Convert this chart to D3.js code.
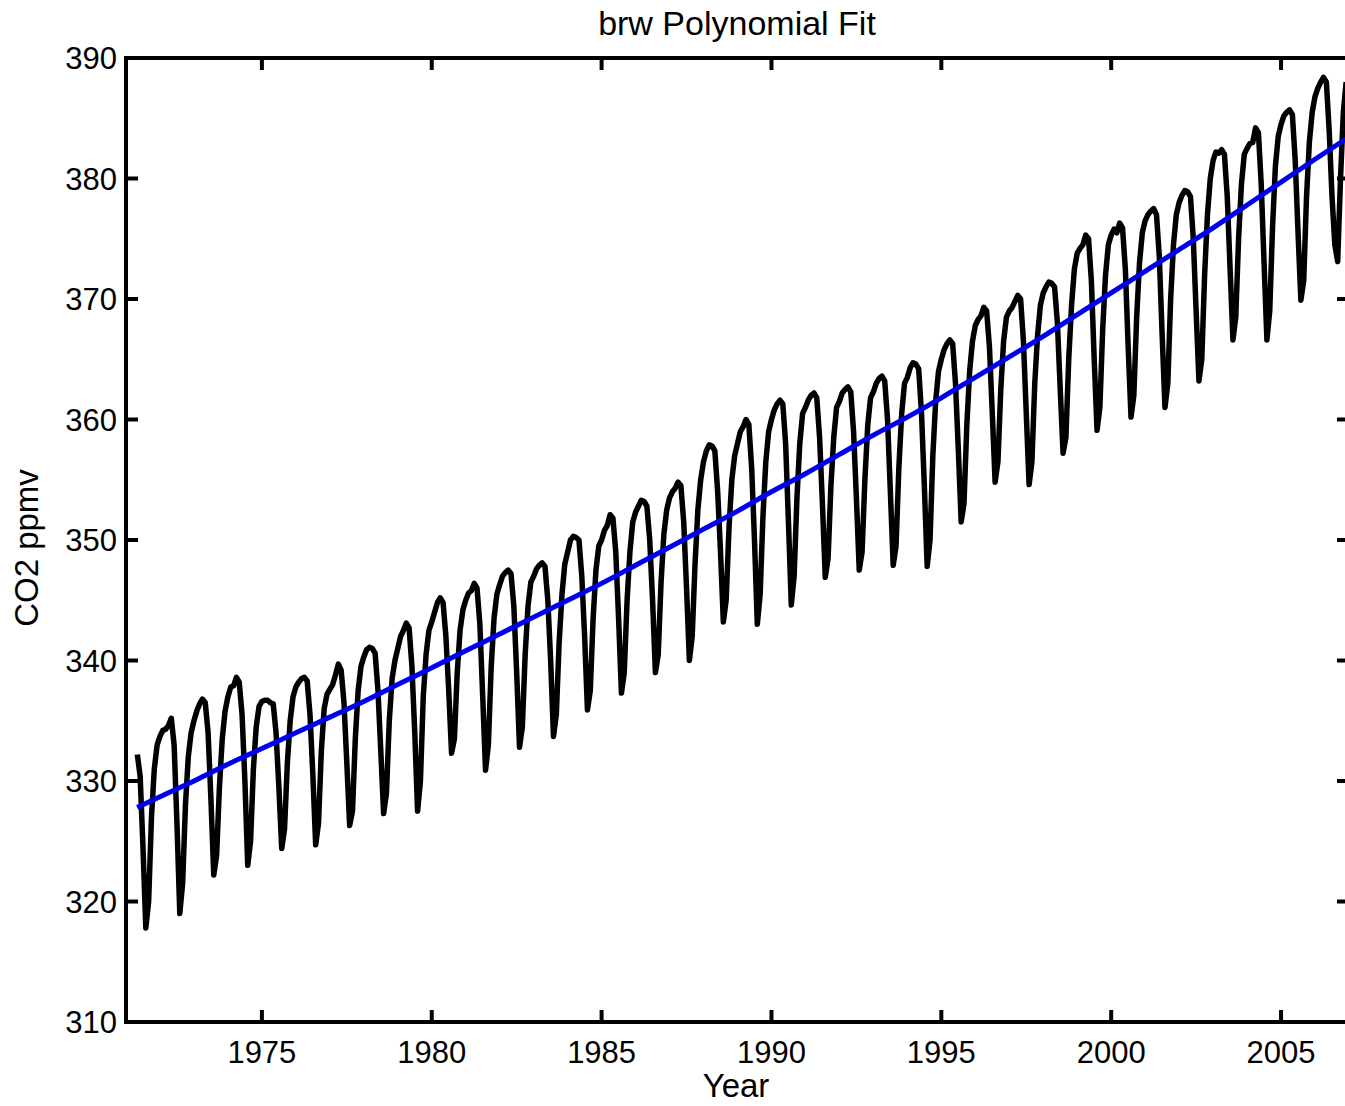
<!DOCTYPE html>
<html>
<head>
<meta charset="utf-8">
<script src="https://cdn.jsdelivr.net/npm/d3@7"></script>
<style>
  body { margin: 0; background: #fff; }
  text { font-family: "Liberation Sans", Arial, Helvetica, sans-serif; fill: #000; }
</style>
</head>
<body>
<div id="chart"></div>
<script>
// monthly CO2 at Barrow (ppmv), one row per year, Jan..Dec (null = no data)
const firstYear = 1971;
const co2Monthly = [
  [null, null, null, null, 332.2, 330.4, 324.5, 317.8, 320.0, 327.0, 331.0, 333.0], // 1971
  [333.7, 334.2, 334.3, 334.6, 335.2, 333.0, 326.5, 319.0, 321.5, 328.0, 332.0, 334.0],
  [335.0, 335.8, 336.4, 336.8, 336.5, 334.0, 328.5, 322.2, 323.8, 329.5, 333.5, 335.8],
  [337.0, 337.8, 337.9, 338.6, 338.2, 335.5, 330.0, 323.0, 325.0, 331.0, 334.5, 336.2],
  [336.6, 336.7, 336.7, 336.5, 336.4, 334.0, 329.5, 324.4, 326.0, 331.5, 335.0, 337.0], // 1975
  [337.8, 338.2, 338.5, 338.6, 338.3, 335.5, 330.5, 324.7, 326.5, 332.5, 336.0, 337.2],
  [337.6, 338.0, 338.8, 339.7, 339.2, 336.5, 331.5, 326.3, 327.5, 333.5, 337.5, 339.5],
  [340.3, 340.9, 341.1, 341.0, 340.6, 337.5, 332.5, 327.3, 329.0, 335.0, 338.5, 340.0],
  [341.0, 342.0, 342.5, 343.1, 342.7, 339.5, 334.0, 327.5, 330.0, 337.0, 340.5, 342.5],
  [343.2, 344.0, 344.8, 345.2, 344.8, 342.0, 337.5, 332.3, 333.5, 339.0, 342.5, 344.2], // 1980
  [345.0, 345.6, 345.8, 346.4, 346.0, 343.0, 337.0, 330.9, 333.0, 339.5, 343.5, 345.5],
  [346.3, 347.0, 347.3, 347.5, 347.2, 344.5, 339.0, 332.8, 334.5, 340.5, 344.5, 346.5],
  [347.0, 347.6, 347.9, 348.1, 347.8, 345.0, 340.0, 333.7, 335.5, 341.5, 345.5, 348.0],
  [349.0, 350.0, 350.3, 350.2, 350.0, 347.0, 342.0, 335.9, 337.5, 343.5, 347.5, 349.5],
  [350.0, 350.8, 351.2, 352.1, 351.8, 349.0, 343.5, 337.3, 339.0, 345.0, 349.0, 351.5], // 1985
  [352.3, 352.8, 353.3, 353.2, 352.8, 350.0, 345.0, 339.0, 340.5, 346.5, 350.5, 352.5],
  [353.5, 354.0, 354.3, 354.8, 354.5, 351.5, 346.0, 340.0, 342.0, 348.0, 352.5, 355.0],
  [356.5, 357.4, 357.9, 357.8, 357.4, 354.0, 349.0, 343.2, 345.0, 351.0, 355.0, 357.0],
  [358.0, 359.0, 359.4, 360.0, 359.6, 356.0, 350.0, 343.0, 345.5, 352.0, 356.5, 359.0],
  [360.0, 360.8, 361.3, 361.6, 361.3, 358.0, 351.5, 344.6, 347.0, 353.5, 358.0, 360.5], // 1990
  [361.0, 361.6, 362.0, 362.2, 361.8, 358.5, 353.0, 346.9, 348.5, 354.5, 358.5, 361.0],
  [361.5, 362.2, 362.5, 362.7, 362.3, 359.0, 353.5, 347.5, 349.0, 355.0, 359.5, 361.8],
  [362.3, 363.0, 363.4, 363.6, 363.2, 360.0, 354.0, 347.9, 349.5, 356.0, 360.5, 363.0],
  [363.5, 364.3, 364.7, 364.6, 364.2, 360.5, 354.5, 347.8, 350.0, 357.0, 361.5, 364.0],
  [365.0, 365.8, 366.3, 366.6, 366.3, 363.0, 357.5, 351.5, 353.0, 359.5, 364.0, 366.5], // 1995
  [367.8, 368.3, 368.6, 369.3, 369.0, 366.0, 360.5, 354.8, 356.5, 362.5, 366.5, 368.5],
  [369.0, 369.3, 369.8, 370.3, 370.0, 366.5, 360.5, 354.6, 356.5, 363.0, 367.0, 369.5],
  [370.5, 371.0, 371.4, 371.3, 371.0, 368.0, 362.5, 357.2, 358.5, 365.0, 369.5, 372.5],
  [373.8, 374.2, 374.5, 375.3, 375.0, 371.5, 365.0, 359.1, 361.0, 367.5, 372.0, 374.5],
  [375.3, 375.8, 375.5, 376.3, 375.9, 372.5, 366.0, 360.2, 362.0, 368.5, 373.0, 375.5], // 2000
  [376.5, 377.0, 377.3, 377.5, 377.0, 373.5, 367.0, 361.0, 363.0, 370.0, 374.5, 377.0],
  [378.0, 378.6, 379.0, 378.9, 378.5, 375.0, 369.0, 363.2, 365.0, 372.0, 377.0, 380.0],
  [381.5, 382.2, 382.1, 382.4, 382.0, 378.5, 372.5, 366.6, 368.5, 375.0, 379.5, 382.0],
  [382.5, 382.9, 383.0, 384.2, 383.8, 379.5, 373.0, 366.6, 369.0, 376.0, 381.0, 383.5],
  [384.5, 385.2, 385.5, 385.7, 385.3, 381.5, 375.5, 369.9, 371.5, 378.5, 383.0, 385.5], // 2005
  [386.8, 387.5, 388.0, 388.4, 388.0, 384.0, 378.5, 374.5, 373.1, 380.0, 385.5, 388.0]
];

// polynomial fit
const fitYears = [1971.33, 1972, 1973, 1974, 1975, 1976, 1977, 1978, 1979, 1980, 1981, 1982,
  1983, 1984, 1985, 1986, 1987, 1988, 1989, 1990, 1991, 1992, 1993, 1994, 1995, 1996,
  1997, 1998, 1999, 2000, 2001, 2002, 2003, 2004, 2005, 2006, 2006.92];
const fitValues = [327.8, 328.7, 330.0, 331.4, 332.7, 334.0, 335.3, 336.6, 338.0, 339.4, 340.8, 342.2,
  343.6, 345.0, 346.4, 347.9, 349.4, 350.9, 352.4, 354.0, 355.5, 357.1, 358.7, 360.2, 361.8, 363.5,
  365.2, 366.9, 368.7, 370.5, 372.3, 374.1, 375.9, 377.8, 379.7, 381.6, 383.3];

const xTicks = [1975, 1980, 1985, 1990, 1995, 2000, 2005];
const yTicks = [310, 320, 330, 340, 350, 360, 370, 380, 390];

const width = 1345, height = 1106;
const margin = { top: 58, right: -4, bottom: 84, left: 126 };

const x = d3.scaleLinear().domain([1971, 2007]).range([margin.left, width - margin.right]);
const y = d3.scaleLinear().domain([310, 390]).range([height - margin.bottom, margin.top]);

// flatten the monthly table into points
const points = [];
co2Monthly.forEach((row, i) => {
  row.forEach((v, m) => {
    if (v != null) points.push({ t: firstYear + i + m / 12, v: v });
  });
});
const fit = fitYears.map((t, i) => ({ t: t, v: fitValues[i] }));

const svg = d3.select("#chart").append("svg")
  .attr("width", width)
  .attr("height", height);

const x0 = x.range()[0], x1 = x.range()[1];
const y0 = y.range()[0], y1 = y.range()[1];

// data
svg.append("path")
  .datum(points)
  .attr("fill", "none")
  .attr("stroke", "#000")
  .attr("stroke-width", 5.5)
  .attr("stroke-linejoin", "round")
  .attr("d", d3.line().x(d => x(d.t)).y(d => y(d.v)));

svg.append("path")
  .datum(fit)
  .attr("fill", "none")
  .attr("stroke", "#0000ee")
  .attr("stroke-width", 5)
  .attr("d", d3.line().curve(d3.curveMonotoneX).x(d => x(d.t)).y(d => y(d.v)));

// box
const axisG = svg.append("g").attr("stroke", "#000").attr("stroke-width", 4);
axisG.append("rect")
  .attr("x", x0).attr("y", y1)
  .attr("width", x1 - x0).attr("height", y0 - y1)
  .attr("fill", "none");

// ticks, pointing inward on all sides
const tickLen = 12;
xTicks.forEach(t => {
  axisG.append("line").attr("x1", x(t)).attr("x2", x(t)).attr("y1", y0).attr("y2", y0 - tickLen);
  axisG.append("line").attr("x1", x(t)).attr("x2", x(t)).attr("y1", y1).attr("y2", y1 + tickLen);
});
yTicks.forEach(v => {
  axisG.append("line").attr("x1", x0).attr("x2", x0 + tickLen).attr("y1", y(v)).attr("y2", y(v));
  axisG.append("line").attr("x1", x1).attr("x2", x1 - tickLen).attr("y1", y(v)).attr("y2", y(v));
});

// tick labels
svg.selectAll(".xlab").data(xTicks).enter().append("text")
  .attr("x", d => x(d))
  .attr("y", y0 + 41)
  .attr("text-anchor", "middle")
  .style("font-size", "31px")
  .text(d => d);

svg.selectAll(".ylab").data(yTicks).enter().append("text")
  .attr("x", x0 - 9)
  .attr("y", d => y(d) + 11)
  .attr("text-anchor", "end")
  .style("font-size", "31px")
  .text(d => d);

// title and axis labels
svg.append("text")
  .attr("x", 737).attr("y", 35)
  .attr("text-anchor", "middle")
  .style("font-size", "34px")
  .text("brw Polynomial Fit");

svg.append("text")
  .attr("x", 736).attr("y", 1097)
  .attr("text-anchor", "middle")
  .style("font-size", "33px")
  .text("Year");

svg.append("text")
  .attr("transform", "translate(38, 548) rotate(-90)")
  .attr("text-anchor", "middle")
  .style("font-size", "33px")
  .text("CO2 ppmv");
</script>
</body>
</html>
